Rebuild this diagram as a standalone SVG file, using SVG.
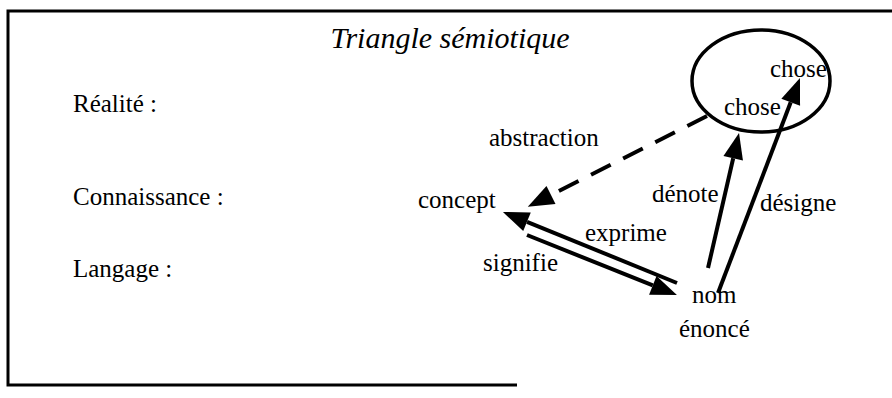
<svg xmlns="http://www.w3.org/2000/svg" width="892" height="398" viewBox="0 0 892 398">
<defs>
<style>
text{font-family:"Liberation Serif","Times New Roman",serif;font-size:25px;fill:#000}
.title{font-style:italic;font-size:30px}
.frame{fill:none;stroke:#000;stroke-width:3}
.conn{fill:none;stroke:#000;stroke-width:4}
.dash{stroke-dasharray:22 14}
</style>
<marker id="ah" markerUnits="userSpaceOnUse" markerWidth="30" markerHeight="24" refX="0" refY="10" orient="auto" overflow="visible">
<path d="M0,0 L26,10 L0,20 Z" fill="#000"/>
</marker>
</defs>
<rect width="892" height="398" fill="#fff"/>
<path class="frame" d="M517,385 H8 V11 H892"/>
<text class="title" x="450" y="48" text-anchor="middle">Triangle sémiotique</text>
<g id="levels">
<text x="73" y="112">Réalité :</text>
<text x="73" y="205">Connaissance :</text>
<text x="73" y="277">Langage :</text>
</g>
<g id="reality">
<ellipse cx="761" cy="81" rx="69" ry="51" fill="none" stroke="#000" stroke-width="3.5"/>
<text x="770" y="77">chose</text>
<text x="724" y="115">chose</text>
</g>
<g id="concept"><text x="418" y="208">concept</text></g>
<g id="nom"><text x="692" y="303">nom</text><text x="679" y="337">énoncé</text></g>
<g id="connectors">
<path class="conn dash" d="M707,116 L551,195" marker-end="url(#ah)"/>
<path class="conn" d="M677,283 L527,221.8" marker-end="url(#ah)"/>
<path class="conn" d="M527,235 L652.8,285.4" marker-end="url(#ah)"/>
<path class="conn" d="M708,268 L733.2,158.3" marker-end="url(#ah)"/>
<path class="conn" d="M718,293 L790.7,102.3" marker-end="url(#ah)"/>
<text x="489" y="146">abstraction</text>
<text x="585" y="241">exprime</text>
<text x="483" y="271">signifie</text>
<text x="652" y="202">dénote</text>
<text x="760" y="211">désigne</text>
</g>
</svg>
